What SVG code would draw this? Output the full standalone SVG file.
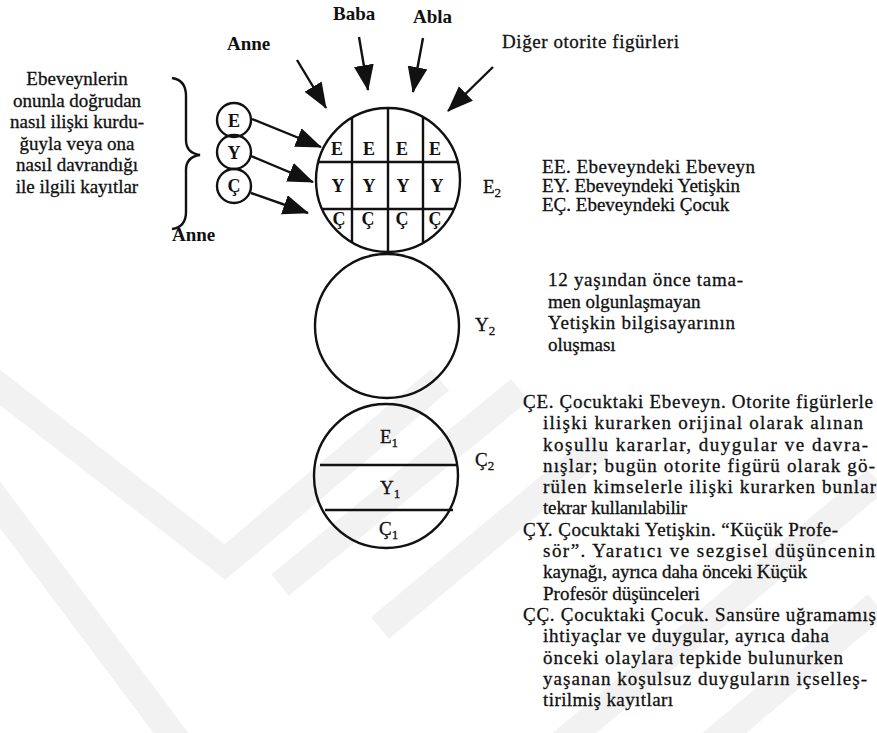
<svg xmlns="http://www.w3.org/2000/svg" width="877" height="733" viewBox="0 0 877 733" font-family="'Liberation Serif', 'DejaVu Serif', serif">
<style>
text { font-family: 'Liberation Serif', 'DejaVu Serif', serif; fill: #111; }
.t { font-size: 19px; stroke: #111; stroke-width: 0.3; }
.b { font-size: 19px; font-weight: bold; }
.g { font-size: 18px; font-weight: bold; text-anchor: middle; }
.c { text-anchor: middle; }
.line { stroke: #111; stroke-width: 2.4; fill: none; }
.wm { stroke: #f2f2f2; stroke-width: 28; fill: none; stroke-linejoin: miter; }
.sub { font-size: 13px; }
</style>
<defs>
<marker id="ah" markerUnits="userSpaceOnUse" markerWidth="27" markerHeight="21" refX="25" refY="10" orient="auto">
<path d="M0,0 L26,10 L0,20 Z" fill="#111"/>
</marker>
<clipPath id="clipTop"><circle cx="388" cy="180" r="72"/></clipPath>
</defs>
<rect width="877" height="733" fill="#ffffff"/>

<g id="watermark">
<polyline class="wm" points="-20,372 225,562 440,380"/>
<polyline class="wm" points="-20,478 180,745"/>
<polyline class="wm" points="280,585 520,390"/>
<polyline class="wm" points="380,628 600,445"/>
<polyline class="wm" points="560,745 877,480"/>
<polyline class="wm" points="710,745 877,605"/>
</g>

<g id="labels-top">
<text class="b" x="333" y="20">Baba</text>
<text class="b" x="413" y="23">Abla</text>
<text class="b" x="227" y="50">Anne</text>
<text class="t" x="502" y="48" textLength="177">Diğer otorite figürleri</text>
</g>

<g id="left-note">
<text class="t c" x="77" y="85">Ebeveynlerin</text>
<text class="t c" x="77" y="107">onunla doğrudan</text>
<text class="t c" x="77" y="128">nasıl ilişki kurdu-</text>
<text class="t c" x="77" y="150">ğuyla veya ona</text>
<text class="t c" x="77" y="171">nasıl davrandığı</text>
<text class="t c" x="77" y="193">ile ilgili kayıtlar</text>
<path class="line" stroke-width="2" d="M172,78 Q186,80 186,96 L186,140 Q186,153 200,155 Q186,157 186,170 L186,212 Q186,227 172,229"/>
</g>

<g id="anne-small">
<circle class="line" cx="234" cy="120" r="17"/>
<text class="g" x="234" y="127">E</text>
<circle class="line" cx="234" cy="152" r="17"/>
<text class="g" x="234" y="159">Y</text>
<circle class="line" cx="234" cy="186" r="17"/>
<text class="g" x="234" y="192">Ç</text>
<text class="b" x="172" y="241">Anne</text>
</g>

<g id="e2-circle">
<circle class="line" cx="388" cy="180" r="72"/>
<g clip-path="url(#clipTop)">
<line class="line" x1="352" y1="100" x2="352" y2="260"/>
<line class="line" x1="388" y1="100" x2="388" y2="260"/>
<line class="line" x1="423" y1="100" x2="423" y2="260"/>
<line class="line" x1="310" y1="162" x2="470" y2="162"/>
<line class="line" x1="310" y1="209" x2="470" y2="209"/>
</g>
<text class="g" x="337" y="155">E</text>
<text class="g" x="369" y="155">E</text>
<text class="g" x="402" y="155">E</text>
<text class="g" x="435" y="155">E</text>
<text class="g" x="338" y="192">Y</text>
<text class="g" x="369" y="192">Y</text>
<text class="g" x="403" y="192">Y</text>
<text class="g" x="437" y="192">Y</text>
<text class="g" x="339" y="225">Ç</text>
<text class="g" x="368" y="225">Ç</text>
<text class="g" x="402" y="225">Ç</text>
<text class="g" x="435" y="225">Ç</text>
<text class="t" x="483" y="193">E<tspan class="sub" dy="4">2</tspan></text>
</g>

<g id="y2-circle">
<circle class="line" cx="387" cy="326" r="72"/>
<text class="t" x="475" y="331">Y<tspan class="sub" dy="4">2</tspan></text>
</g>

<g id="c2-circle">
<circle class="line" cx="386" cy="476" r="72"/>
<line class="line" x1="320" y1="465" x2="458" y2="465"/>
<line class="line" x1="325" y1="510" x2="453" y2="510"/>
<text class="t" x="380" y="443">E<tspan class="sub" dy="4">1</tspan></text>
<text class="t" x="380" y="494">Y<tspan class="sub" dy="4">1</tspan></text>
<text class="t" x="379" y="535">Ç<tspan class="sub" dy="4">1</tspan></text>
<text class="t" x="475" y="466">Ç<tspan class="sub" dy="4">2</tspan></text>
</g>

<g id="connectors">
<line class="line" x1="297" y1="60" x2="326" y2="108" marker-end="url(#ah)"/>
<line class="line" x1="359" y1="37" x2="368" y2="90" marker-end="url(#ah)"/>
<line class="line" x1="423" y1="38" x2="413" y2="92" marker-end="url(#ah)"/>
<line class="line" x1="493" y1="67" x2="448" y2="111" marker-end="url(#ah)"/>
<line class="line" x1="252" y1="119" x2="321" y2="147" marker-end="url(#ah)"/>
<line class="line" x1="251" y1="156" x2="313" y2="182" marker-end="url(#ah)"/>
<line class="line" x1="251" y1="193" x2="308" y2="213" marker-end="url(#ah)"/>
</g>

<g id="legend-e2">
<text class="t" x="542" y="173" textLength="213">EE. Ebeveyndeki Ebeveyn</text>
<text class="t" x="542" y="192">EY. Ebeveyndeki Yetişkin</text>
<text class="t" x="542" y="211">EÇ. Ebeveyndeki Çocuk</text>
</g>

<g id="legend-y2">
<text class="t" x="548" y="286" textLength="195">12 yaşından önce tama-</text>
<text class="t" x="548" y="307.5">men olgunlaşmayan</text>
<text class="t" x="548" y="329" textLength="187">Yetişkin bilgisayarının</text>
<text class="t" x="548" y="350.5">oluşması</text>
</g>

<g id="legend-c2">
<text class="t" x="523" y="408" textLength="350">ÇE. Çocuktaki Ebeveyn. Otorite figürlerle</text>
<text class="t" x="543" y="429" textLength="320">ilişki kurarken orijinal olarak alınan</text>
<text class="t" x="543" y="451" textLength="325">koşullu kararlar, duygular ve davra-</text>
<text class="t" x="543" y="472" textLength="332">nışlar; bugün otorite figürü olarak gö-</text>
<text class="t" x="543" y="493" textLength="333">rülen kimselerle ilişki kurarken bunlar</text>
<text class="t" x="543" y="514" textLength="144">tekrar kullanılabilir</text>
<text class="t" x="523" y="536" textLength="315">ÇY. Çocuktaki Yetişkin. “Küçük Profe-</text>
<text class="t" x="543" y="557" textLength="332">sör”. Yaratıcı ve sezgisel düşüncenin</text>
<text class="t" x="543" y="578" textLength="264">kaynağı, ayrıca daha önceki Küçük</text>
<text class="t" x="543" y="600">Profesör düşünceleri</text>
<text class="t" x="523" y="621" textLength="353">ÇÇ. Çocuktaki Çocuk. Sansüre uğramamış</text>
<text class="t" x="543" y="642" textLength="286">ihtiyaçlar ve duygular, ayrıca daha</text>
<text class="t" x="543" y="664" textLength="300">önceki olaylara tepkide bulunurken</text>
<text class="t" x="543" y="685" textLength="324">yaşanan koşulsuz duyguların içselleş-</text>
<text class="t" x="543" y="706" textLength="130">tirilmiş kayıtları</text>
</g>
</svg>
